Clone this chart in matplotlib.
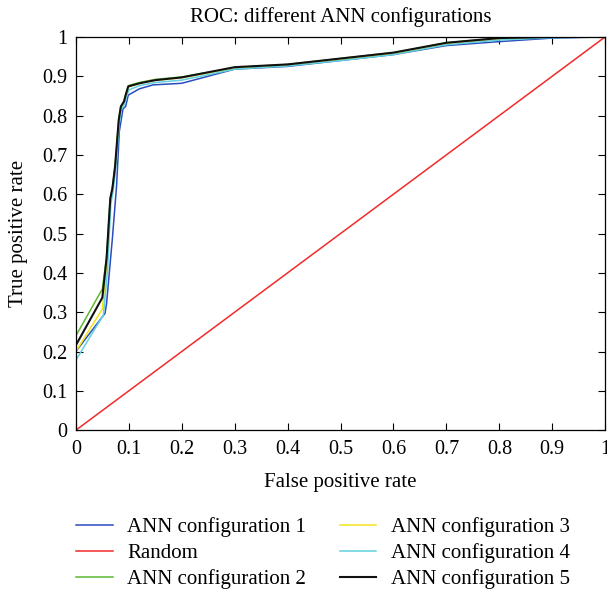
import matplotlib
matplotlib.use('Agg')
import matplotlib.pyplot as plt

plt.rcParams['font.family'] = ['Liberation Serif', 'DejaVu Serif']

# ROC points (false positive rate, true positive rate)
fpr_1 = [0, 0, 0.055, 0.058, 0.069, 0.077, 0.082, 0.089, 0.094, 0.099, 0.12, 0.146, 0.2, 0.3, 0.4, 0.5, 0.6, 0.7, 0.8, 0.9, 1.0]
tpr_1 = [0, 0.20, 0.297, 0.322, 0.488, 0.623, 0.759, 0.817, 0.823, 0.852, 0.868, 0.878, 0.882, 0.918, 0.925, 0.940, 0.955, 0.978, 0.988, 0.997, 1.0]

fpr_rand = [0, 1]
tpr_rand = [0, 1]

fpr_2 = [0, 0, 0.05, 0.058, 0.065, 0.069, 0.074, 0.081, 0.085, 0.091, 0.094, 0.099, 0.12, 0.15, 0.2, 0.3, 0.4, 0.5, 0.6, 0.7, 0.8, 0.9, 1.0]
tpr_2 = [0, 0.24, 0.359, 0.44, 0.59, 0.615, 0.67, 0.789, 0.823, 0.836, 0.852, 0.876, 0.884, 0.892, 0.898, 0.922, 0.930, 0.945, 0.960, 0.985, 0.997, 1.0, 1.0]

fpr_3 = [0, 0, 0.05, 0.058, 0.065, 0.069, 0.074, 0.081, 0.085, 0.091, 0.094, 0.099, 0.12, 0.15, 0.2, 0.3, 0.4, 0.5, 0.6, 0.7, 0.8, 0.9, 1.0]
tpr_3 = [0, 0.20, 0.308, 0.42, 0.58, 0.61, 0.665, 0.785, 0.82, 0.834, 0.85, 0.873, 0.882, 0.890, 0.896, 0.921, 0.929, 0.943, 0.958, 0.983, 0.995, 1.0, 1.0]

fpr_4 = [0, 0, 0.052, 0.06, 0.066, 0.07, 0.075, 0.082, 0.086, 0.092, 0.095, 0.1, 0.12, 0.15, 0.2, 0.3, 0.4, 0.5, 0.6, 0.7, 0.8, 0.9, 1.0]
tpr_4 = [0, 0.178, 0.293, 0.41, 0.575, 0.605, 0.66, 0.78, 0.815, 0.83, 0.845, 0.865, 0.876, 0.884, 0.890, 0.918, 0.926, 0.940, 0.955, 0.980, 0.992, 0.998, 1.0]

fpr_5 = [0, 0, 0.05, 0.058, 0.065, 0.069, 0.074, 0.081, 0.085, 0.091, 0.094, 0.099, 0.12, 0.15, 0.2, 0.3, 0.4, 0.5, 0.6, 0.7, 0.8, 0.9, 1.0]
tpr_5 = [0, 0.216, 0.337, 0.437, 0.589, 0.615, 0.67, 0.789, 0.823, 0.836, 0.852, 0.874, 0.882, 0.890, 0.897, 0.923, 0.930, 0.945, 0.960, 0.985, 0.997, 1.0, 1.0]

ticks = [0, 0.1, 0.2, 0.3, 0.4, 0.5, 0.6, 0.7, 0.8, 0.9, 1]
tick_labels = ['0', '0.1', '0.2', '0.3', '0.4', '0.5', '0.6', '0.7', '0.8', '0.9', '1']

fig = plt.figure(figsize=(6.07, 5.95), dpi=100)
ax = fig.add_axes([0.125, 0.277, 0.872, 0.661])

ax.plot(fpr_1, tpr_1, color='#2a4cc0', lw=1.1, label='ANN configuration 1')
ax.plot(fpr_rand, tpr_rand, color='#f22a2a', lw=1.1, label='Random')
ax.plot(fpr_2, tpr_2, color='#5db832', lw=1.1, label='ANN configuration 2')
ax.plot(fpr_3, tpr_3, color='#f2e41a', lw=1.1, label='ANN configuration 3')
ax.plot(fpr_4, tpr_4, color='#62d2dc', lw=1.1, label='ANN configuration 4')
ax.plot(fpr_5, tpr_5, color='#111111', lw=1.5, label='ANN configuration 5')

ax.set_xlim(0, 1)
ax.set_ylim(0, 1)
ax.set_xticks(ticks)
ax.set_xticklabels(tick_labels)
ax.set_yticks(ticks)
ax.set_yticklabels(tick_labels)
ax.tick_params(direction='in', top=True, right=True, labelsize=14.5, length=5, width=0.8)
ax.tick_params(axis='x', pad=7)
ax.tick_params(axis='y', pad=6)
for s in ax.spines.values():
    s.set_linewidth(0.9)

ax.set_title('ROC: different ANN configurations', fontsize=15, pad=11)
ax.set_xlabel('False positive rate', fontsize=15, labelpad=10)
ax.set_ylabel('True positive rate', fontsize=15, labelpad=10)

fig.legend(loc='upper left', bbox_to_anchor=(0.112, 0.145), borderaxespad=0, ncol=2,
           frameon=False, fontsize=15, handlelength=1.75, handletextpad=0.7,
           columnspacing=1.6, labelspacing=0.3)

fig.savefig('out.png', dpi=100)
